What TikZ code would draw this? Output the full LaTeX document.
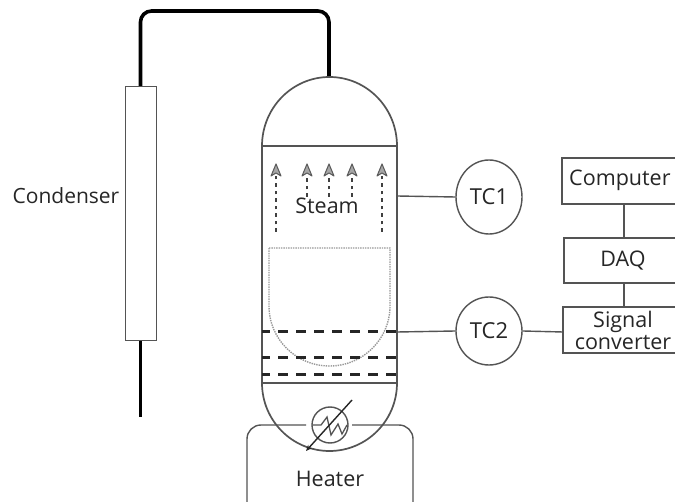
\documentclass[tikz,border=0pt]{standalone}
\usepackage{fontspec}
\setmainfont{Open Sans}
\usetikzlibrary{arrows.meta,shapes.geometric}
\definecolor{ln}{gray}{0.33}
\tikzset{
  x=1pt,y=-1pt,
  wall/.style={draw=ln,line width=1.7pt},
  thin wall/.style={draw=ln,line width=1.4pt},
  pipe/.style={draw=black,line width=3.6pt,line join=round},
  tray/.style={draw=black!85,line width=3pt,dash pattern=on 10pt off 8pt,dash phase=2pt},
  txt/.style={font=\fontsize{21.5}{21.5}\selectfont,text=black!85,inner sep=0pt,align=center},
  tcnode/.style={ellipse,draw=ln,line width=1.4pt,minimum width=66pt,inner sep=0pt,font=\fontsize{22}{22}\selectfont,text=black!85},
  stm/.style={draw=black!75,line width=1.3pt,dash pattern=on 3.5pt off 4pt},
  tip/.style={draw=black!65,fill=black!35,line width=1pt,line join=round}
}
\newcommand{\steamtip}[2]{\draw[tip] (#1-5,#2+12) -- (#1,#2) -- (#1+5,#2+12) -- (#1,#2+9) -- cycle;}
\begin{document}
\begin{tikzpicture}
\useasboundingbox (0,0) rectangle (675,502);
\fill[white] (0,0) rectangle (675,502);
% piping
\coordinate (condtop) at (140.5,86);
\coordinate (vesseltop) at (329,77);
\coordinate (condbot) at (140.5,340);
\coordinate (drain) at (140.5,417);
\draw[pipe,rounded corners=11pt] (condtop) -- (140.5,11) -- (329,11) -- (vesseltop);
\draw[pipe] (condbot) -- (drain);
% condenser
\node[draw=ln,line width=1.4pt,fill=white,minimum width=31pt,minimum height=254pt,inner sep=0pt,anchor=north west] (cond) at (125,86) {};
\node[txt,font=\fontsize{21}{21}\selectfont,anchor=east] (condlabel) at (119.5,196) {Condenser};
% heater (behind vessel)
\draw[thin wall] (247,502) -- (247,439) arc[start angle=180,end angle=270,radius=14] -- (306,425);
\draw[thin wall] (352,425) -- (399,425) arc[start angle=-90,end angle=0,radius=14] -- (413,502);
\node[txt] (heater) at (330,479) {Heater};
% vessel
\draw[wall] (262,146) -- (262,383) arc[start angle=180,end angle=0,x radius=67.5,y radius=68] -- (397,146) arc[start angle=0,end angle=-180,x radius=67.5,y radius=69] -- cycle;
\draw[wall] (262,146) -- (397,146);
\draw[wall] (262,383) -- (397,383);
% liquid
\draw[draw=black!40,line width=1.4pt,densely dotted] (269,248) -- (390,248) -- (390,306) arc[start angle=0,end angle=180,x radius=60.5,y radius=60] -- cycle;
% trays
\draw[tray] (262,332) -- (397,332);
\draw[tray] (262,358) -- (397,358);
\draw[tray] (262,375) -- (397,375);
% steam
\foreach \xx/\yy in {276/232,307/197,329/197,352/197,382/232}{
  \draw[stm] (\xx,\yy) -- (\xx,176);
}
\steamtip{276}{164}\steamtip{307}{164}\steamtip{329}{164}\steamtip{352}{164}\steamtip{382}{164}
\node[txt] (steam) at (327,206) {Steam};
% coil
\node[draw=ln,line width=1.4pt,circle,minimum size=36pt,inner sep=0pt] (coil) at (330,425) {};
\draw[draw=ln,line width=1.3pt] (313,425) -- (321,425) -- (327,417) -- (331,435) -- (338,424) -- (342,434) -- (347,425);
\coordinate (coilarrowstart) at (352,400);
\coordinate (coilarrowend) at (306,451);
\draw[draw=black!85,line width=1.4pt,-{Stealth[length=6pt,width=5pt]}] (coilarrowstart) -- (coilarrowend);
% instruments
\node[tcnode,minimum height=74pt] (tcone) at (489,197) {TC1};
\node[tcnode,minimum height=68pt] (tctwo) at (489,331) {TC2};
\coordinate (vesselone) at (397,196);
\coordinate (vesseltwo) at (397,332);
\draw[thin wall] (vesselone) -- (tcone.west);
\draw[thin wall] (vesseltwo) -- (tctwo.west);
% boxes
\draw[thin wall] (675,158) -- (562,158) -- (562,204) -- (675,204);
\node[txt,anchor=west] (computer) at (569,180) {Computer};
\draw[thin wall] (675,238) -- (564,238) -- (564,283) -- (675,283);
\node[txt] (daq) at (623,261) {DAQ};
\draw[thin wall] (675,307) -- (563,307) -- (563,353) -- (675,353);
\node[txt,font=\fontsize{21.5}{22}\selectfont] (signal) at (623,330) {Signal\\converter};
\coordinate (compb) at (624,204);
\coordinate (daqt) at (624,238);
\coordinate (daqb) at (624,283);
\coordinate (sigt) at (624,307);
\coordinate (sigw) at (563,332);
\draw[thin wall] (compb) -- (daqt);
\draw[thin wall] (daqb) -- (sigt);
\draw[thin wall] (tctwo.east) -- (sigw);
\end{tikzpicture}
\end{document}
